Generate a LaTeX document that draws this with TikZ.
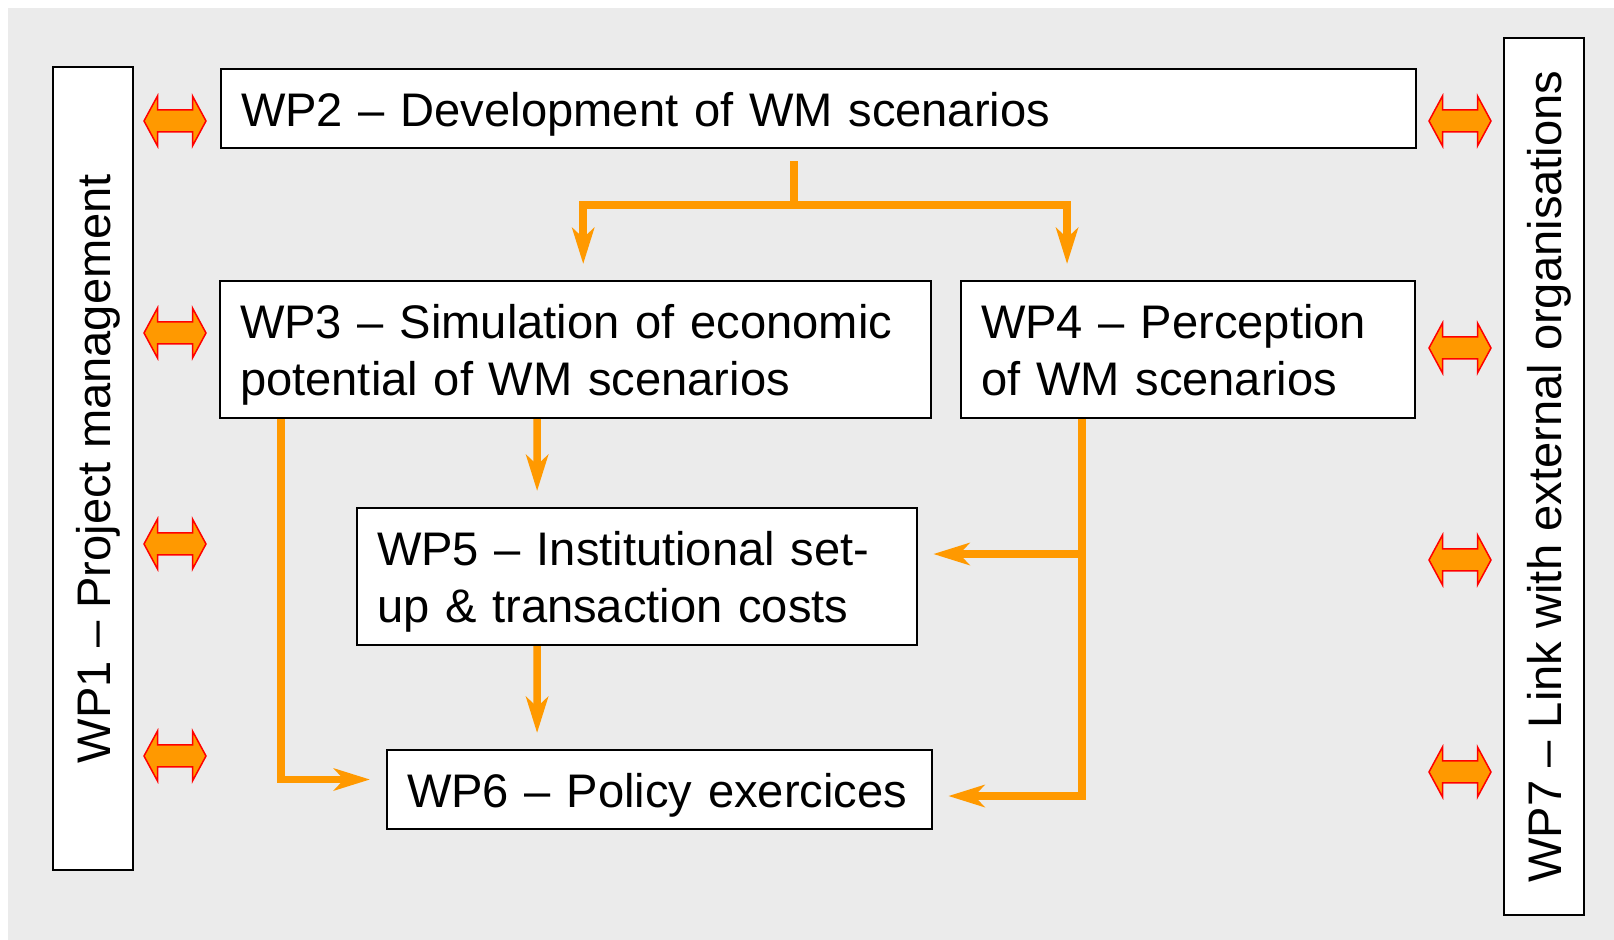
\documentclass[tikz,border=0pt]{standalone}
\usepackage{fontspec}
\setmainfont{Liberation Sans}
\usetikzlibrary{arrows.meta}
\definecolor{fon}{RGB}{235,235,235}
\definecolor{oranzh}{RGB}{255,153,0}
\newcommand\topst{\rule{0pt}{13.5pt}} % верхняя подпорка
\newcommand\botst{\rule[-3.5pt]{0pt}{3.5pt}} % нижняя подпорка

\begin{document}
\begin{tikzpicture}[x=0.01cm,y=-0.01cm,
  wp/.style={draw,fill=white,line width=0.02cm,anchor=north west,inner xsep=0.2cm,inner ysep=0pt,align=left,font=\fontsize{13.4}{16.2}\selectfont,execute at begin node=\topst,execute at end node=\botst},
  wpv/.style={draw,fill=white,line width=0.02cm,rotate=90,minimum height=0.8cm,inner sep=0pt,font=\fontsize{13.4}{16.2}\selectfont,execute at begin node=\topst,execute at end node=\botst},
  flowline/.style={draw=oranzh,line width=0.075cm},
  flow/.style={flowline,-{Stealth[length=0.36cm,width=0.22cm,inset=0.1cm]},shorten >=0.16cm},
  pics/link/.style={code={\draw[draw=red,fill=oranzh,line width=0.015cm] (-31,0) -- (-17.5,-25) -- (-17.5,-11) -- (17.5,-11) -- (17.5,-25) -- (31,0) -- (17.5,25) -- (17.5,11) -- (-17.5,11) -- (-17.5,25) -- cycle;}}]

\useasboundingbox (0,0) rectangle (1614,940);
\fill[fon] (8,8) rectangle (1614,940); % серый фон

\node[wp,text width=11.54cm,minimum height=0.79cm] (wp2) at (220,68) {WP2 -- Development of WM scenarios};
\node[wp,text width=6.71cm,minimum height=1.37cm] (wp3) at (219,280) {WP3 -- Simulation of economic\\potential of WM scenarios};
\node[wp,text width=4.14cm,minimum height=1.37cm] (wp4) at (960,280) {WP4 -- Perception\\of WM scenarios};
\node[wp,text width=5.2cm,minimum height=1.37cm] (wp5) at (356,507) {WP5 -- Institutional set-\\up \& transaction costs};
\node[wp,text width=5.05cm,minimum height=0.79cm] (wp6) at (386,749) {WP6 -- Policy exercices};
\node[wpv,minimum width=8.03cm] (wp1) at (93,468.5) {WP1 -- Project management}; % левая колонка
\node[wpv,minimum width=8.77cm] (wp7) at (1544,476.5) {WP7 -- Link with external organisations}; % правая колонка

\coordinate (fork) at (794,205);
\draw[flowline,shorten <=0.12cm] (wp2.south -| fork) -- (fork);
\draw[flow] (fork) -| ([xshift=3.64cm]wp3.north west);
\draw[flow] (fork) -| ([xshift=1.07cm]wp4.north west);
\draw[flow] ([xshift=3.18cm]wp3.south west) -- ([xshift=1.81cm]wp5.north west);
\draw[flow] ([xshift=1.81cm]wp5.south west) -- ([xshift=1.51cm]wp6.north west);
\draw[flow] ([xshift=0.62cm]wp3.south west) |- ([yshift=0.1cm]wp6.west);
\draw[flow,shorten >=0.15cm] ([xshift=1.22cm]wp4.south west) |- ([yshift=0.225cm]wp5.east);
\draw[flow,shorten >=0.15cm] ([xshift=1.22cm]wp4.south west) |- ([yshift=-0.065cm]wp6.east);

\pic (l1) at (175,121) {link}; % связь с WP1
\pic (l2) at (175,333) {link};
\pic (l3) at (175,544) {link};
\pic (l4) at (175,756) {link};
\pic (r1) at (1460,121) {link}; % связь с WP7
\pic (r2) at (1460,348) {link};
\pic (r3) at (1460,560) {link};
\pic (r4) at (1460,772) {link};

\end{tikzpicture}
\end{document}
